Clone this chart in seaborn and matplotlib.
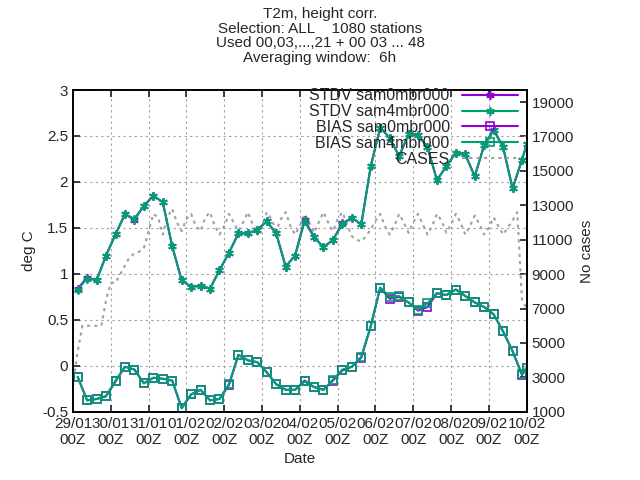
import numpy as np
import pandas as pd
import seaborn as sns
import matplotlib
matplotlib.use("Agg")
import matplotlib.pyplot as plt

sns.set_theme(style="ticks")
plt.rcParams['font.family'] = ['Liberation Sans', 'DejaVu Sans']

# time in hours since 29/01 00Z
hours = [3 + 6 * i for i in range(48)] + [288]
stdv0 = [0.84, 0.96, 0.93, 1.20, 1.43, 1.65, 1.59, 1.74, 1.85, 1.78, 1.30, 0.93, 0.86, 0.87, 0.84, 1.04,
         1.23, 1.44, 1.44, 1.48, 1.57, 1.44, 1.08, 1.20, 1.59, 1.40, 1.29, 1.37, 1.55, 1.61, 1.54, 2.17,
         2.59, 2.48, 2.28, 2.52, 2.51, 2.38, 2.02, 2.17, 2.32, 2.30, 2.06, 2.40, 2.57, 2.38, 1.93, 2.24, 2.41]
stdv4 = [0.83, 0.95, 0.93, 1.20, 1.43, 1.65, 1.60, 1.74, 1.85, 1.78, 1.30, 0.93, 0.86, 0.87, 0.84, 1.04,
         1.23, 1.44, 1.44, 1.48, 1.57, 1.44, 1.08, 1.20, 1.57, 1.40, 1.29, 1.37, 1.54, 1.61, 1.54, 2.17,
         2.59, 2.48, 2.28, 2.52, 2.51, 2.38, 2.02, 2.17, 2.32, 2.30, 2.06, 2.40, 2.56, 2.38, 1.93, 2.24, 2.41]
bias0 = [-0.12, -0.375, -0.36, -0.33, -0.17, -0.01, -0.04, -0.19, -0.13, -0.14, -0.16, -0.46, -0.31, -0.26,
         -0.375, -0.36, -0.21, 0.12, 0.06, 0.04, -0.07, -0.20, -0.26, -0.26, -0.16, -0.23, -0.26, -0.16, -0.05,
         -0.01, 0.09, 0.43, 0.85, 0.73, 0.75, 0.69, 0.60, 0.64, 0.79, 0.77, 0.83, 0.76, 0.69, 0.64, 0.56, 0.375,
         0.16, -0.10, -0.02]
bias4 = [-0.12, -0.375, -0.36, -0.33, -0.16, -0.01, -0.04, -0.19, -0.13, -0.14, -0.16, -0.46, -0.31, -0.26,
         -0.375, -0.36, -0.20, 0.12, 0.06, 0.04, -0.07, -0.20, -0.26, -0.26, -0.17, -0.23, -0.26, -0.15, -0.04,
         -0.01, 0.10, 0.43, 0.85, 0.75, 0.76, 0.69, 0.61, 0.68, 0.79, 0.77, 0.83, 0.76, 0.69, 0.64, 0.56, 0.375,
         0.16, -0.09, -0.02]
case_hours = [3 * i for i in range(97)]
cases = [2500, 4500, 6000, 6000, 6000, 6000, 6000, 7500, 8500, 8500, 9000, 9500, 10000, 10200, 10300, 10500,
         11500, 12500, 12300, 11300, 12300, 12800, 12000, 11500, 12200, 12500, 11800, 11500, 12300, 12600, 11800,
         11300, 11800, 12500, 12000, 11500, 12000, 12600, 11900, 11300, 11800, 12600, 12200, 11500, 12200, 12600,
         11800, 11300, 11800, 12500, 12000, 11400, 12000, 12600, 12000, 11500, 12200, 12600, 11900, 11200, 11000,
         10900, 11200, 11600, 12100, 12500, 11800, 11300, 11800, 12500, 12000, 11400, 12000, 12500, 11900, 11300,
         11800, 12500, 12100, 11400, 11900, 12500, 12000, 11300, 11800, 12400, 11900, 11300, 11700, 12300, 11800,
         11300, 11700, 12100, 12600, 7500, 7000]
xtick_labels = ["29/01\n00Z", "30/01\n00Z", "31/01\n00Z", "01/02\n00Z", "02/02\n00Z", "03/02\n00Z", "04/02\n00Z",
                "05/02\n00Z", "06/02\n00Z", "07/02\n00Z", "08/02\n00Z", "09/02\n00Z", "10/02\n00Z"]

purple = "#9400d3"
green = "#009e73"
ast = (6, 2, 0)

fig = plt.figure(figsize=(6.4, 4.8), dpi=100)
ax = fig.add_axes([0.114, 0.142, 0.709, 0.6705])
ax2 = ax.twinx()

dfc = pd.DataFrame({"h": np.array(case_hours) / 24, "c": cases})
sns.lineplot(data=dfc, x="h", y="c", ax=ax2, color="#a0a0a0", lw=1.5, linestyle=(0, (1.5, 2)), label="CASES")
ax2.set_ylim(1000, 19700)
ax2.set_yticks(range(1000, 20000, 2000))
ax2.set_ylabel("No cases", fontsize=11)

d = np.array(hours) / 24
for y, c, m, lab in [(stdv0, purple, ast, "STDV sam0mbr000"), (stdv4, green, ast, "STDV sam4mbr000"),
                     (bias0, purple, "s", "BIAS sam0mbr000"), (bias4, green, "s", "BIAS sam4mbr000")]:
    df = pd.DataFrame({"d": d, "v": y})
    sns.lineplot(data=df, x="d", y="v", ax=ax, color=c, lw=1.5, marker=m, markersize=6,
                 markerfacecolor="none", markeredgecolor=c, markeredgewidth=1.2, label=lab)

ax.set_xlim(0, 12)
ax.set_ylim(-0.5, 3)
ax.set_xticks(range(13))
ax.set_xticklabels(xtick_labels)
ax.set_yticks(np.arange(-0.5, 3.01, 0.5))
ax.set_yticklabels(["-0.5", "0", "0.5", "1", "1.5", "2", "2.5", "3"])
ax.grid(True, color="#a0a0a0", linestyle=(0, (2, 3)), lw=0.8)
ax.set_xlabel("Date", fontsize=11)
ax.set_ylabel("deg C", fontsize=11)
ax.set_zorder(ax2.get_zorder() + 1)
ax.patch.set_visible(False)
for a in (ax, ax2):
    a.tick_params(direction="in", labelsize=11, top=True, length=5)
    for s in a.spines.values():
        s.set_color("black")

h1, l1 = ax.get_legend_handles_labels()
h2, l2 = ax2.get_legend_handles_labels()
if ax2.get_legend():
    ax2.get_legend().remove()
leg = ax.legend(h1 + h2, l1 + l2, loc="upper right", frameon=False, fontsize=11.5, markerfirst=False,
                handlelength=3.5, borderaxespad=0.0, borderpad=0.1, labelspacing=0.05,
                bbox_to_anchor=(0.985, 1.01))
for t in leg.get_texts():
    t.set_ha("right")
leg._legend_box.align = "right"

fig.suptitle("T2m, height corr.\nSelection: ALL    1080 stations\nUsed 00,03,...,21 + 00 03 ... 48\nAveraging window:  6h",
             y=0.985, fontsize=11, linespacing=1.05)
fig.savefig("out.png", dpi=100)
